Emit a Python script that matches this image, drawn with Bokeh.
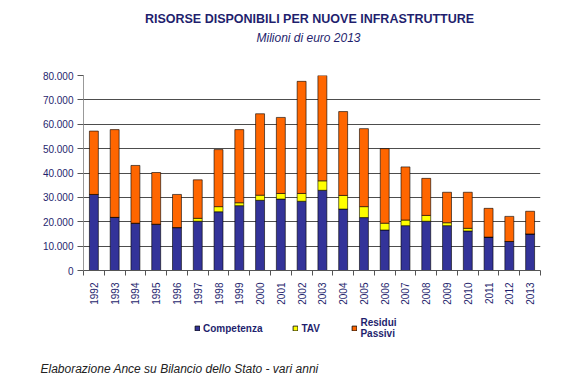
from bokeh.plotting import figure
from bokeh.models import (ColumnDataSource, Range1d, FixedTicker, Label, Legend, LegendItem, Title)
from bokeh.layouts import column
from bokeh.embed import file_html
from bokeh.resources import INLINE

years = [1992, 1993, 1994, 1995, 1996, 1997, 1998, 1999, 2000, 2001, 2002,
         2003, 2004, 2005, 2006, 2007, 2008, 2009, 2010, 2011, 2012, 2013]
competenza = [31200, 21800, 19400, 19000, 17600, 20200, 24100, 26600, 28800, 29300, 28400,
              32900, 25200, 21700, 16600, 18400, 20200, 18400, 16200, 13700, 11900, 15000]
tav = [0, 0, 0, 0, 0, 1200, 2100, 1200, 2100, 2300, 3200,
       3900, 5600, 4500, 2800, 2300, 2400, 1200, 1100, 0, 0, 0]
residui = [26000, 36000, 23700, 21200, 13600, 15800, 23400, 30000, 33400, 31200, 46000,
           43200, 34400, 32000, 30600, 21800, 15200, 12500, 14800, 11800, 10300, 9300]
y_ticks = [0, 10000, 20000, 30000, 40000, 50000, 60000, 70000, 80000]
series_keys = ["competenza", "tav", "residui"]
series_names = ["Competenza", "TAV", "Residui\nPassivi"]
series_colors = ["#333399", "#FFFF00", "#FF6600"]

NAVY_TXT = "#1F1F6E"
FONT = "Liberation Sans"
W = 573
BL, BR = 83, 33   # common left/right borders so that all frames line up


def blank(height, top=0, bottom=0):
    f = figure(width=W, height=height, output_backend="svg", toolbar_location=None,
               x_range=Range1d(BL, W - BR), y_range=Range1d(height, 0),
               x_axis_type=None, y_axis_type=None, title=None,
               min_border_left=BL, min_border_right=BR,
               min_border_top=top, min_border_bottom=bottom)
    f.outline_line_color = None
    return f


src = ColumnDataSource(dict(year=years, competenza=competenza, tav=tav, residui=residui))

# ---- header with titles
top = blank(67)
top.add_layout(Label(x=309, y=18, text="RISORSE DISPONIBILI PER NUOVE INFRASTRUTTURE",
                     text_font=FONT, text_font_size="12.5px", text_font_style="bold",
                     text_color=NAVY_TXT, text_align="center", text_baseline="middle"))
top.add_layout(Label(x=308, y=37, text="Milioni di euro 2013",
                     text_font=FONT, text_font_size="12px", text_font_style="italic",
                     text_color=NAVY_TXT, text_align="center", text_baseline="middle"))

# ---- main chart
p = figure(width=W, height=240, output_backend="svg", toolbar_location=None, title=None,
           x_range=Range1d(years[0] - 0.5, years[-1] + 0.5), y_range=Range1d(0, 80000),
           min_border_left=BL, min_border_right=BR, min_border_top=8, min_border_bottom=36)
p.outline_line_color = None

r = p.vbar_stack(series_keys, x="year", width=0.43, source=src,
                 color=series_colors, line_color="black", line_width=0.6)

p.xgrid.grid_line_color = None
p.ygrid.grid_line_color = "#4d4d4d"
p.ygrid.grid_line_width = 1
p.ygrid.ticker = FixedTicker(ticks=y_ticks)

p.yaxis.ticker = FixedTicker(ticks=y_ticks)
p.yaxis.major_label_overrides = {v: f"{v:,}".replace(",", ".") for v in y_ticks}
p.yaxis.major_label_text_font = FONT
p.yaxis.major_label_text_font_size = "10px"
p.yaxis.major_label_text_color = NAVY_TXT
p.yaxis.axis_line_color = "#999999"
p.yaxis.major_tick_line_color = "#555555"
p.yaxis.major_tick_out = 6
p.yaxis.major_tick_in = 0
p.yaxis.minor_tick_line_color = None
p.yaxis.major_label_standoff = 4

p.xaxis.ticker = FixedTicker(ticks=years, minor_ticks=[y + 0.5 for y in [years[0] - 1] + years])
p.xaxis.major_label_overrides = {y: str(y) for y in years}
p.xaxis.major_label_orientation = 3.14159265 / 2
p.xaxis.major_label_text_font = FONT
p.xaxis.major_label_text_font_size = "10px"
p.xaxis.major_label_text_color = NAVY_TXT
p.xaxis.axis_line_color = "#555555"
p.xaxis.major_tick_line_color = None
p.xaxis.minor_tick_line_color = "#555555"
p.xaxis.minor_tick_out = 5
p.xaxis.minor_tick_in = 0
p.xaxis.major_label_standoff = 6

# ---- legend strip (hidden copies of the stacks give the legend its swatches)
leg = blank(49)
lr = leg.vbar_stack(series_keys, x="year", width=0.43, source=src,
                    color=series_colors, line_color="black", line_width=0.8, visible=False)
legend = Legend(items=[LegendItem(label=n, renderers=[rr]) for n, rr in zip(series_names, lr)],
                orientation="horizontal", location=(111, 17),
                glyph_width=6, glyph_height=6, label_standoff=3, spacing=30,
                padding=0, margin=0, border_line_color=None, background_fill_alpha=0,
                inactive_fill_alpha=0,
                label_text_font=FONT, label_text_font_size="10px",
                label_text_font_style="bold", label_text_color=NAVY_TXT,
                label_height=10, label_text_baseline="top")
leg.add_layout(legend)

# ---- source note
foot = blank(20)
foot.add_layout(Title(text="Elaborazione Ance su Bilancio dello Stato - vari anni", align="left",
                      offset=-43, standoff=2, text_font=FONT, text_font_size="12px",
                      text_font_style="italic", text_color="#222222"), "below")

layout = column(top, p, leg, foot, spacing=0)
open("out.html", "w").write(file_html(layout, INLINE))
